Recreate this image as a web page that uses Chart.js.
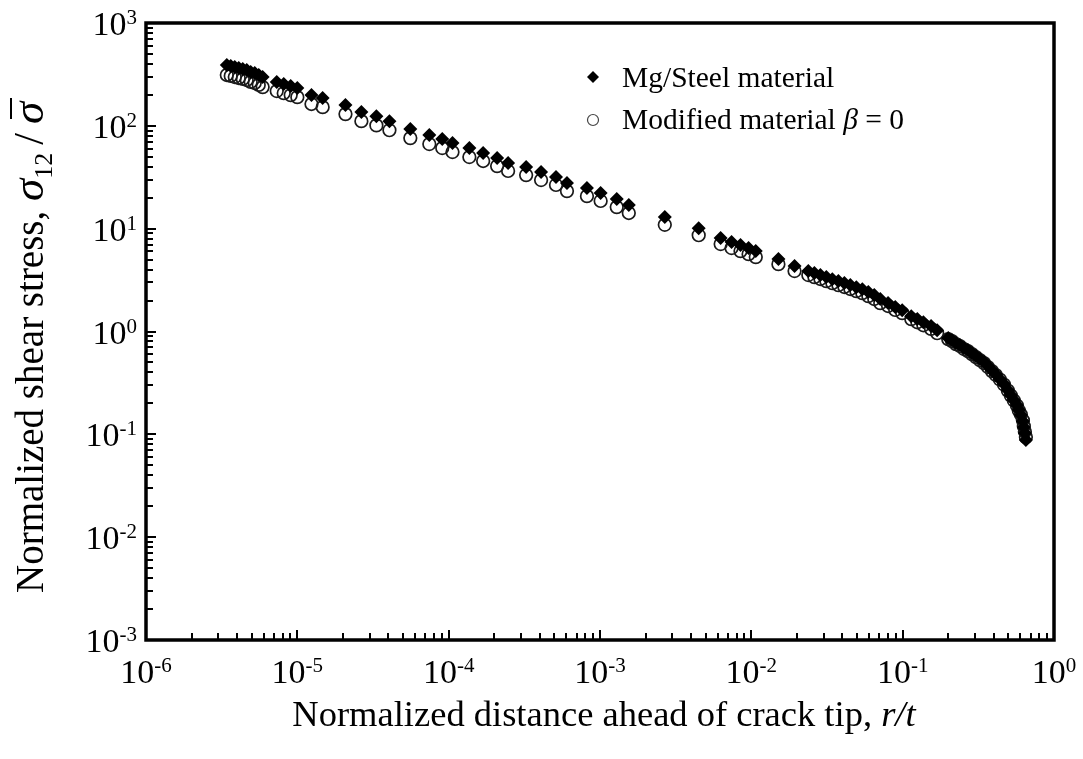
<!DOCTYPE html>
<html>
<head>
<meta charset="utf-8">
<script src="https://cdn.jsdelivr.net/npm/chart.js@4.4.0/dist/chart.umd.min.js"></script>
<style>
  html, body { margin: 0; padding: 0; background: #fff; }
  #wrap { position: relative; width: 1083px; height: 759px; }
</style>
</head>
<body>
<div id="wrap"><canvas id="stressChart"></canvas></div>
<script>
// normalized distance ahead of the crack tip (same r/t stations for both materials)
const rOverT = [
    3.42e-6, 3.63e-6, 3.86e-6, 4.10e-6, 4.36e-6, 4.63e-6, 4.92e-6, 5.23e-6, 5.56e-6, 5.90e-6,
    7.31e-6, 8.13e-6, 9.04e-6, 1.00e-5,
    1.24e-5, 1.47e-5, 2.08e-5, 2.65e-5, 3.33e-5, 4.06e-5, 5.58e-5, 7.45e-5, 9.07e-5, 1.06e-4,
    1.37e-4, 1.69e-4, 2.09e-4, 2.47e-4, 3.25e-4, 4.08e-4, 5.12e-4, 6.05e-4, 8.20e-4, 1.01e-3,
    1.29e-3, 1.55e-3, 2.68e-3, 4.49e-3,
    6.27e-3, 7.40e-3, 8.48e-3, 9.59e-3, 1.07e-2, 1.51e-2, 1.93e-2,
    2.38e-2, 2.61e-2, 2.86e-2, 3.13e-2, 3.43e-2, 3.76e-2, 4.12e-2, 4.51e-2, 4.94e-2, 5.41e-2,
    5.93e-2, 6.49e-2, 7.11e-2,
    8.01e-2, 8.93e-2, 9.93e-2, 0.114, 0.125, 0.137, 0.154, 0.169,
    0.200, 0.212, 0.225, 0.239, 0.254, 0.270, 0.287, 0.305, 0.324, 0.345, 0.366, 0.389, 0.413,
    0.439, 0.467, 0.496, 0.519, 0.543, 0.569, 0.586, 0.604, 0.623, 0.632, 0.642, 0.652
];

// sigma_12 / sigma-bar, Mg/Steel bimaterial
const mgSteelStress = [
    390, 382, 373, 365, 357, 349, 334, 326, 312, 298,
    267, 255, 244, 233,
    200, 186, 159, 136, 124, 111, 93, 81.4, 74.4, 68.0,
    60.8, 54.4, 48.6, 43.5, 39.7, 35.5, 31.8, 27.8, 24.8, 22.2,
    19.4, 17.0, 13.0, 10.1,
    8.11, 7.41, 6.92, 6.47, 6.05, 5.06, 4.33,
    3.87, 3.70, 3.54, 3.38, 3.23, 3.09, 2.96, 2.83, 2.70, 2.58,
    2.42, 2.26, 2.07,
    1.89, 1.73, 1.61, 1.41, 1.32, 1.23, 1.13, 1.03,
    0.863, 0.824, 0.771, 0.738, 0.690, 0.659, 0.616, 0.577, 0.539, 0.504, 0.461, 0.421, 0.385,
    0.344, 0.308, 0.269, 0.240, 0.215, 0.192, 0.172, 0.154, 0.134, 0.117, 0.103, 0.088
];

// sigma_12 / sigma-bar, modified material with beta = 0
const modifiedStress = [
    312, 306, 298, 292, 286, 279, 267, 261, 250, 238,
    218, 208, 199, 190,
    163, 152, 130, 111, 101, 90.7, 76.0, 66.5, 60.8, 55.6,
    49.7, 45.5, 40.6, 36.4, 33.2, 29.7, 26.6, 23.2, 20.7, 18.6,
    16.2, 14.2, 10.9, 8.64,
    7.09, 6.48, 6.05, 5.65, 5.29, 4.52, 3.87,
    3.54, 3.38, 3.24, 3.09, 2.95, 2.82, 2.71, 2.59, 2.47, 2.36,
    2.21, 2.07, 1.89,
    1.77, 1.62, 1.51, 1.32, 1.23, 1.15, 1.06, 0.963,
    0.844, 0.806, 0.754, 0.722, 0.675, 0.645, 0.602, 0.564, 0.527, 0.493, 0.451, 0.412, 0.377,
    0.341, 0.305, 0.266, 0.238, 0.213, 0.190, 0.170, 0.156, 0.137, 0.120, 0.106, 0.094
];

// decade labels on each axis
const xExponents = [-6, -5, -4, -3, -2, -1, 0];
const yExponents = [-3, -2, -1, 0, 1, 2, 3];

const seriesNames = ['Mg/Steel material', 'Modified material '];

const SERIF = '"Liberation Serif", "Times New Roman", serif';

function toPoints(xs, ys) {
    return xs.map(function(x, i) { return { x: x, y: ys[i] }; });
}

// "10" with a raised exponent, anchored at x by its right edge or centre
function drawPowerLabel(ctx, exp, x, baseY, align) {
    const base = '10';
    const sup = String(exp);
    ctx.font = '34px ' + SERIF;
    const wBase = ctx.measureText(base).width;
    ctx.font = '21px ' + SERIF;
    const wSup = ctx.measureText(sup).width;
    const left = align === 'right' ? x - wBase - wSup : x - (wBase + wSup) / 2;
    ctx.font = '34px ' + SERIF;
    ctx.fillText(base, left, baseY);
    ctx.font = '21px ' + SERIF;
    ctx.fillText(sup, left + wBase, baseY - 11);
}

// writes a run of [text, font, dy] pieces left to right, returns end x
function drawRuns(ctx, runs, x, y) {
    runs.forEach(function(r) {
        ctx.font = r[1];
        ctx.fillText(r[0], x, y + (r[2] || 0));
        x += ctx.measureText(r[0]).width;
    });
    return x;
}

function runsWidth(ctx, runs) {
    let w = 0;
    runs.forEach(function(r) {
        ctx.font = r[1];
        w += ctx.measureText(r[0]).width;
    });
    return w;
}

const frameAndLabels = {
    id: 'frameAndLabels',
    afterDraw: function(chart) {
        const ctx = chart.ctx;
        const area = chart.chartArea;
        const xs = chart.scales.x;
        const ys = chart.scales.y;

        ctx.save();
        ctx.strokeStyle = '#000';
        ctx.fillStyle = '#000';

        // inward minor/major ticks on the bottom and left axes
        ctx.lineWidth = 2;
        ctx.beginPath();
        for (let k = xExponents[0]; k < xExponents[xExponents.length - 1]; k++) {
            for (let m = 1; m <= 9; m++) {
                if (m === 1 && k === xExponents[0]) continue;
                const px = Math.round(xs.getPixelForValue(Number(m + 'e' + k)));
                const len = m === 1 ? 10 : 7;
                ctx.moveTo(px, area.bottom);
                ctx.lineTo(px, area.bottom - len);
            }
        }
        for (let k = yExponents[0]; k < yExponents[yExponents.length - 1]; k++) {
            for (let m = 1; m <= 9; m++) {
                if (m === 1 && k === yExponents[0]) continue;
                const py = Math.round(ys.getPixelForValue(Number(m + 'e' + k)));
                const len = m === 1 ? 10 : 7;
                ctx.moveTo(area.left, py);
                ctx.lineTo(area.left + len, py);
            }
        }
        ctx.stroke();

        // plot frame
        ctx.lineWidth = 3.5;
        ctx.strokeRect(area.left, area.top, area.right - area.left, area.bottom - area.top);

        // tick labels
        ctx.textAlign = 'left';
        ctx.textBaseline = 'alphabetic';
        xExponents.forEach(function(e) {
            drawPowerLabel(ctx, e, xs.getPixelForValue(Math.pow(10, e)), area.bottom + 43, 'center');
        });
        yExponents.forEach(function(e) {
            drawPowerLabel(ctx, e, 137, ys.getPixelForValue(Math.pow(10, e)) + 12, 'right');
        });

        // x axis title
        const xRuns = [
            ['Normalized distance ahead of crack tip, ', '36.5px ' + SERIF],
            ['r/t', 'italic 36.5px ' + SERIF]
        ];
        const xw = runsWidth(ctx, xRuns);
        drawRuns(ctx, xRuns, 604 - xw / 2, 726);

        // y axis title, rotated, reading upward
        ctx.save();
        ctx.translate(43, 593);
        ctx.rotate(-Math.PI / 2);
        let cx = drawRuns(ctx, [
            ['Normalized shear stress, ', '39px ' + SERIF],
            ['\u03c3', 'italic 45px ' + SERIF],
            ['12', '26px ' + SERIF, 9]
        ], 0, 0);
        cx += 8;
        cx = drawRuns(ctx, [['/', '42px ' + SERIF]], cx, 0) + 9;
        ctx.font = 'italic 45px ' + SERIF;
        const wSig = ctx.measureText('\u03c3').width;
        ctx.fillText('\u03c3', cx, 0);
        ctx.lineWidth = 2;
        ctx.beginPath();
        ctx.moveTo(cx + 5, -32);
        ctx.lineTo(cx + wSig + 4, -32);
        ctx.stroke();
        ctx.restore();

        // legend inside the plot
        ctx.beginPath();
        ctx.moveTo(593 - 6, 77);
        ctx.lineTo(593, 77 - 6);
        ctx.lineTo(593 + 6, 77);
        ctx.lineTo(593, 77 + 6);
        ctx.closePath();
        ctx.fill();
        ctx.strokeStyle = '#444';
        ctx.lineWidth = 1.2;
        ctx.beginPath();
        ctx.arc(593, 120, 5.5, 0, Math.PI * 2);
        ctx.stroke();
        drawRuns(ctx, [[seriesNames[0], '29.5px ' + SERIF]], 622, 87);
        drawRuns(ctx, [
            [seriesNames[1], '29.5px ' + SERIF],
            ['\u03b2', 'italic 29.5px ' + SERIF],
            [' = 0', '29.5px ' + SERIF]
        ], 622, 129);

        ctx.restore();
    }
};

new Chart(document.getElementById('stressChart'), {
    type: 'scatter',
    data: {
        datasets: [
            {
                label: seriesNames[0],
                data: toPoints(rOverT, mgSteelStress),
                pointStyle: 'rectRot',
                pointRadius: 7,
                pointBackgroundColor: '#000',
                pointBorderColor: '#000',
                pointBorderWidth: 0
            },
            {
                label: seriesNames[1],
                data: toPoints(rOverT, modifiedStress),
                pointStyle: 'circle',
                pointRadius: 6.3,
                pointBackgroundColor: 'rgba(0,0,0,0)',
                pointBorderColor: '#1a1a1a',
                pointBorderWidth: 1.7
            }
        ]
    },
    options: {
        responsive: true,
        maintainAspectRatio: false,
        animation: false,
        layout: {
            padding: { left: 146, right: 29, top: 23, bottom: 119 }
        },
        scales: {
            x: {
                type: 'logarithmic',
                display: false,
                min: 1e-6,
                max: 1
            },
            y: {
                type: 'logarithmic',
                display: false,
                min: 1e-3,
                max: 1e3
            }
        },
        plugins: {
            legend: { display: false },
            tooltip: { enabled: false }
        }
    },
    plugins: [frameAndLabels]
});
</script>
</body>
</html>
